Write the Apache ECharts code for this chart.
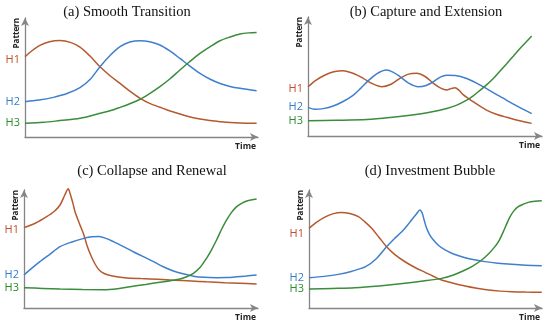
<!DOCTYPE html>
<html>
<head>
<meta charset="utf-8">
<script src="https://cdn.jsdelivr.net/npm/echarts@6/dist/echarts.min.js"></script>
<style>html,body{margin:0;padding:0;background:#fff}#c{width:550px;height:326px}</style>
</head>
<body>
<div id="c"></div>
<script>
const titles = ['(a) Smooth Transition', '(b) Capture and Extension', '(c) Collapse and Renewal', '(d) Investment Bubble'];
const seriesNames = ['H1', 'H2', 'H3'];
const xAxisName = 'Time';
const yAxisName = 'Pattern';

// Panel (a)
const aH1 = [[0,67.5],[3,72.5],[6.4,77],[10.5,80],[15,81],[19.5,79.5],[23.6,75.5],[27.9,68],[32.2,59],[36.5,51.5],[40.8,45],[45,38.5],[49.4,32.5],[53.5,28.3],[57.9,25],[62,22],[66.5,19.3],[70.5,17],[75.1,15.1],[79.5,13.9],[83.7,12.9],[92.3,11.8],[99.4,11.5]];
const aH2 = [[0,29.7],[6,31],[12.2,33.3],[18,36.5],[23.6,41.5],[28,48.5],[32.2,59.1],[36.5,68.5],[40.8,75.9],[45,79.8],[49.4,80.9],[53.5,80],[57.9,77.3],[62,72.5],[66.5,66],[70.5,60],[75.1,53.5],[79.5,48.5],[83.7,45],[88,42.5],[92.3,40.9],[99.4,38.9]];
const aH3 = [[0,11.5],[8,12.3],[15,13.8],[23.6,15.7],[32.2,19.9],[36.5,22],[40.8,24.9],[45,28],[49.4,31.7],[53.5,36.5],[57.9,42.3],[62,48.5],[66.5,56.3],[70.5,63],[75.1,70.3],[79.5,76],[83.7,80.9],[88,84],[92.3,86.5],[96,87.5],[99.4,87.9]];
// Panel (b)
const bH1 = [[0,41.4],[3.5,47],[7.3,51.3],[11,54],[15.1,54.9],[19.5,52.5],[23.6,48.5],[27.5,44],[31.5,41.4],[35.5,43.5],[39.3,48.5],[43,52],[46.4,52.7],[50,50],[53.6,44.3],[56.5,40.5],[59.3,38.7],[61,39.8],[62.8,40.6],[64.5,38.5],[66.4,34.5],[70.6,28.8],[76.3,21.8],[80.5,18.3],[84.9,15.7],[90,13],[95.6,10.6]];
const bH2 = [[0,24.1],[3,22.4],[6.5,23],[10.8,25.2],[15,29],[19.4,34.4],[22.5,40],[25.8,46.5],[29.5,52.5],[33.6,55.5],[36.5,53.5],[39.3,49.9],[43,44.5],[47.1,41.4],[50.5,42.5],[53.6,45.6],[56.5,49.5],[59.3,51.1],[63,50.8],[67.8,48.3],[72,44.5],[76.3,39.8],[80.5,35],[84.9,30],[90,24.5],[95.6,18.8]];
const bH3 = [[0,12.8],[12,13.2],[25.1,13.9],[35,15.5],[43.6,17.5],[52,20],[59.3,23.1],[63.6,25.9],[67.8,30.1],[70.6,33.8],[73.5,38.4],[76.3,43],[79.2,48.3],[82,54.5],[84.9,60.8],[87.8,67.2],[90.6,73.5],[93,78.5],[95.6,84]];
// Panel (c)
const cH1 = [[0,68.1],[5,72],[9.7,77.4],[13,82],[15.4,87.3],[17.5,96],[18.9,101],[19.7,97],[21,88],[21.8,81.6],[23.8,71],[25.6,61.9],[27,52.5],[28.5,44.9],[30.3,37.5],[32.1,32.2],[34.5,29],[37.3,27.4],[43,25.7],[50,24.9],[57.3,24.3],[64,23.6],[71.5,22.9],[78,22.2],[85.8,21.5],[92,21],[99.4,20.4]];
const cH2 = [[0,28],[3.5,34],[6.8,39.3],[11,45.5],[15.4,52],[20.5,56],[25.6,59],[29,60.3],[32.1,60.5],[35,59],[38.2,56.2],[42.5,52],[46.7,47.7],[51,43.5],[55.3,39.3],[59.5,35],[63.8,31.4],[68,29],[72.4,27],[77,26],[82.3,25.7],[86.5,25.8],[90.9,26.4],[95,27.1],[99.4,28]];
const cH3 = [[0,17.2],[8,16.6],[15.4,16.1],[25,15.6],[33.9,15.5],[40,16.4],[45.3,18.1],[52,20],[58.1,21.8],[62.5,23],[66.7,24.6],[69.5,26.5],[72.4,29.4],[75.3,34.5],[78,42.1],[80.2,49.5],[82.3,57.6],[84.4,66.5],[86.6,74.6],[88.7,81],[90.9,85.9],[93,88.7],[95.2,90.7],[97.3,91.7],[99.4,92.4]];
// Panel (d)
const dH1 = [[0,67.5],[3.5,73],[7.2,77.4],[10.5,80],[14,81],[17.5,80],[21.2,77.4],[24,73],[26.9,67.5],[30,60],[33.3,51.9],[37,45],[41.2,39.2],[45.5,34.3],[49.8,30.2],[53.5,26.7],[56.9,23.7],[62,21],[67,18.6],[72,16.7],[77,15.2],[82,14.3],[87,13.8],[93,13.5],[99.9,13.3]];
const dH2 = [[0,25.7],[6.5,26.8],[12.6,28.5],[18.5,31.2],[24.3,35],[29,42],[33.3,51.9],[36.5,58.5],[39.8,64.6],[42,69.5],[44,74.6],[46,79.5],[47.6,83.1],[48.6,80.3],[49.5,74],[50.5,67.5],[51.8,62],[53.4,57.6],[55.5,53.2],[58.4,49.2],[62,45.8],[67,42.6],[71,40.8],[75.5,39.3],[81,38],[87,37],[93,36.3],[99.9,35.9]];
const dH3 = [[0,16.1],[10,16.6],[19.7,17.2],[30,18.7],[41.2,20.9],[49,22.8],[56.9,25.1],[62,28],[67,32.2],[70.6,36],[74.1,40.7],[77,45.8],[79.8,52],[81.7,57.6],[83.4,64.7],[84.9,71.5],[86.3,77.4],[88,82.5],[89.8,85.9],[92,88],[94.1,89.5],[97,90.4],[99.9,90.9]];

const panels = [[aH1,aH2,aH3],[bH1,bH2,bH3],[cH1,cH2,cH3],[dH1,dH2,dH3]];

// styling
const lineColors = ['#b5592f', '#3f7fcc', '#3b8c3b'];
const labelColors = ['#c0502c', '#3a7cc4', '#2e8a2e'];
const labelOffsetY = [[3,0,0],[2,0,0],[2,0,0],[6,0,0]];
const grids = [
  {left:25, top:18, width:233, height:119},
  {left:308, top:17, width:234, height:119},
  {left:24, top:190, width:234, height:118},
  {left:309, top:190, width:233, height:118}
];
const titlePos = [[127,12],[426,12],[152,171],[430,171]];

const axisLine = {show:true, lineStyle:{color:'#858585', width:1.3}, symbol:['none','arrow'], symbolSize:[6,8]};

const xAxes = grids.map((g,i)=>({
  type:'value', gridIndex:i, min:0, max:100,
  axisLine: axisLine, axisTick:{show:false}, axisLabel:{show:false}, splitLine:{show:false},
  name: xAxisName, nameLocation:'end', nameGap:0,
  nameTextStyle:{align:'right', verticalAlign:'top', padding:[5,2,0,0], fontFamily:'Open Sans', fontWeight:'bold', fontSize:8.5, color:'#222'}
}));
const yAxes = grids.map((g,i)=>({
  type:'value', gridIndex:i, min:0, max:100,
  axisLine: axisLine, axisTick:{show:false}, axisLabel:{show:false}, splitLine:{show:false},
  name: yAxisName, nameLocation:'end', nameGap:0, nameRotate:90,
  nameTextStyle:{align:'right', verticalAlign:'bottom', padding:[0,0,4,0], fontFamily:'Open Sans', fontWeight:'bold', fontSize:8, color:'#222'}
}));

const series = [];
panels.forEach((p,i)=>{
  p.forEach((d,k)=>{
    series.push({
      type:'line', name: seriesNames[k], xAxisIndex:i, yAxisIndex:i,
      smooth:0.3, showSymbol:true, symbolSize:0, symbol:'circle', clip:false,
      lineStyle:{color: lineColors[k], width:1.5},
      itemStyle:{color: lineColors[k]},
      emphasis:{disabled:true}, silent:true,
      data: d.map((pt,j)=> j===0 ? {value:pt, label:{show:true, position:'left', distance:5, offset:[0,labelOffsetY[i][k]], formatter:seriesNames[k], color:labelColors[k], fontFamily:'Open Sans', fontSize:11}} : pt)
    });
  });
});

const graphic = titles.map((t,i)=>({
  type:'text', x:titlePos[i][0], y:titlePos[i][1],
  style:{text:t, fill:'#111', font:'14.5px "Liberation Serif"', textAlign:'center', textVerticalAlign:'middle'}
}));

const chart = echarts.init(document.getElementById('c'), null, {renderer:'canvas'});
chart.setOption({
  animation:false,
  backgroundColor:'#fff',
  grid: grids,
  xAxis: xAxes,
  yAxis: yAxes,
  series: series,
  graphic: graphic
});
</script>
</body>
</html>
